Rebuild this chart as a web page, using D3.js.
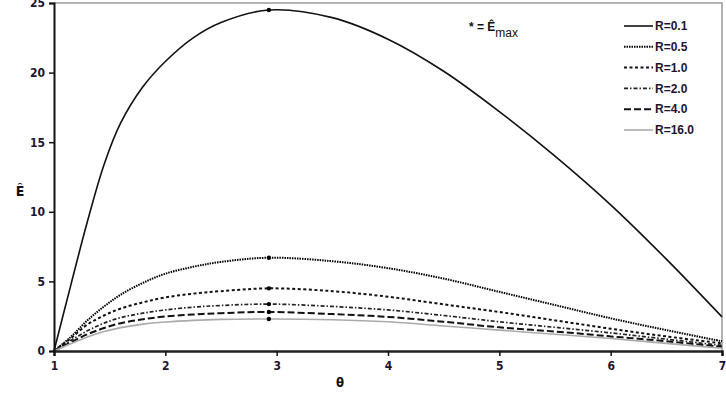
<!DOCTYPE html>
<html>
<head>
<meta charset="utf-8">
<script src="https://cdn.jsdelivr.net/npm/d3@7"></script>
<style>
  body { margin: 0; background: #fff; }
  svg text { font-family: "Liberation Sans Narrow", "Arial Narrow", "DejaVu Sans Condensed", "Liberation Sans", Arial, sans-serif; }
  svg text.legend, svg text.note { font-family: "Liberation Sans", Arial, sans-serif; }
</style>
</head>
<body>
<div id="graphicContainer"></div>
<script>

const theta = [1, 1.15, 1.3, 1.45, 1.6, 1.8, 2, 2.25, 2.5, 2.93, 3.5, 4, 4.5, 5, 5.5, 6, 6.5, 7]

const r01 = [0, 4.7, 9.3, 13.4, 16.4, 19.0, 20.8, 22.5, 23.6, 24.5, 23.95, 22.4, 20.1, 17.2, 14.0, 10.5, 6.6, 2.45]
const r05 = [0, 1.0, 2.2, 3.2, 4.05, 4.9, 5.55, 6.05, 6.4, 6.7, 6.45, 5.95, 5.2, 4.25, 3.3, 2.35, 1.5, 0.7]
const r10 = [0, 0.9, 1.9, 2.55, 3.05, 3.5, 3.85, 4.12, 4.3, 4.5, 4.3, 3.9, 3.35, 2.8, 2.2, 1.6, 1.05, 0.55]
const r20 = [0, 0.75, 1.45, 2.0, 2.4, 2.72, 2.95, 3.15, 3.27, 3.37, 3.2, 2.95, 2.55, 2.1, 1.7, 1.3, 0.85, 0.4]
const r40 = [0, 0.62, 1.2, 1.65, 2.0, 2.28, 2.48, 2.62, 2.72, 2.8, 2.65, 2.45, 2.1, 1.7, 1.4, 1.05, 0.7, 0.3]
const r160 = [0, 0.52, 1.0, 1.4, 1.68, 1.93, 2.08, 2.2, 2.27, 2.3, 2.25, 2.1, 1.8, 1.5, 1.2, 0.9, 0.55, 0.2]

const seriesNames = ["R=0.1", "R=0.5", "R=1.0", "R=2.0", "R=4.0", "R=16.0"]
const seriesValues = [r01, r05, r10, r20, r40, r160]
const peakTheta = 2.93

const xTicks = [1, 2, 3, 4, 5, 6, 7]
const yTicks = [0, 5, 10, 15, 20, 25]

// line styles per series
const styles = [
  { stroke: "#111", width: 1.6, dash: null },
  { stroke: "#000", width: 2, dash: "1.5,1" },
  { stroke: "#111", width: 2, dash: "3,2.5" },
  { stroke: "#222", width: 1.7, dash: "4,2,1.5,2" },
  { stroke: "#111", width: 2, dash: "7,3" },
  { stroke: "#aaa", width: 1.6, dash: null }
]

const W = 726, H = 394
const margin = { left: 54, right: 4, top: 3, bottom: 43 }
const width = W - margin.left - margin.right
const height = H - margin.top - margin.bottom

const svg = d3.select("#graphicContainer").append("svg")
  .attr("width", W)
  .attr("height", H)

const g = svg.append("g")
  .attr("transform", `translate(${margin.left}, ${margin.top})`)

const x = d3.scaleLinear().domain([1, 7]).range([0, width])
const y = d3.scaleLinear().domain([0, 25]).range([height, 0])

// frame (top + right, grey)
g.append("path")
  .attr("d", `M0,${y(25)}H${width}V${height}`)
  .attr("fill", "none")
  .attr("stroke", "#999")
  .attr("stroke-width", 1.5)

const line = d3.line()
  .x((d) => x(d[0]))
  .y((d) => y(d[1]))
  .curve(d3.curveCatmullRom.alpha(0.5))

seriesValues.forEach((vals, i) => {
  const st = styles[i]
  g.append("path")
    .datum(theta.map((t, j) => [t, vals[j]]))
    .attr("d", line)
    .attr("fill", "none")
    .attr("stroke", st.stroke)
    .attr("stroke-width", st.width)
    .attr("stroke-dasharray", st.dash)
})

// E max markers
g.selectAll(".peak")
  .data(seriesValues)
  .enter()
  .append("circle")
  .attr("class", "peak")
  .attr("cx", x(peakTheta))
  .attr("cy", (d) => y(d[theta.indexOf(peakTheta)]))
  .attr("r", 2.2)
  .attr("fill", "#000")

// axes
const xAxis = g.append("g")
  .attr("transform", `translate(0,${height})`)
  .call(d3.axisBottom(x).tickValues(xTicks).tickSize(5).tickFormat(d3.format("d")))

const yAxis = g.append("g")
  .call(d3.axisLeft(y).tickValues(yTicks).tickSize(5).tickFormat(d3.format("d")))

xAxis.select(".domain").attr("stroke", "#222").attr("stroke-width", 2.5)
yAxis.select(".domain").attr("stroke", "#111").attr("stroke-width", 2)

svg.selectAll(".tick line").attr("stroke", "#111").attr("stroke-width", 1.5)
svg.selectAll(".tick text")
  .attr("font-size", 12)
  .attr("font-weight", "bold")
  .attr("fill", "#1e1430")

xAxis.selectAll(".tick text").attr("dy", "0.95em")
yAxis.selectAll(".tick text").attr("x", -9)

// axis titles
svg.append("text")
  .attr("x", margin.left + x(3.57))
  .attr("y", 387)
  .attr("text-anchor", "middle")
  .attr("font-size", 13)
  .attr("font-weight", "bold")
  .attr("fill", "#111")
  .text("θ")

svg.append("text")
  .attr("x", 20)
  .attr("y", 196)
  .attr("text-anchor", "middle")
  .attr("font-size", 14)
  .attr("font-weight", "bold")
  .attr("fill", "#111")
  .text("Ê")

// E max note
const note = svg.append("text")
  .attr("class", "note")
  .attr("x", 469)
  .attr("y", 31)
  .attr("font-size", 12)
  .attr("font-weight", "bold")
  .attr("fill", "#111")
note.append("tspan").text("* = Ê")
note.append("tspan").attr("dy", 6).attr("font-weight", "normal").text("max")

// legend
const legend = svg.append("g")
  .attr("transform", "translate(624, 26)")

seriesNames.forEach((name, i) => {
  const st = styles[i]
  const row = legend.append("g").attr("transform", `translate(0, ${i * 20.8})`)
  row.append("line")
    .attr("x1", 0)
    .attr("x2", 29)
    .attr("stroke", st.stroke)
    .attr("stroke-width", st.width)
    .attr("stroke-dasharray", st.dash)
  row.append("text")
    .attr("class", "legend")
    .attr("x", 31)
    .attr("dy", "0.35em")
    .attr("font-size", 12)
    .attr("font-weight", "bold")
    .attr("fill", "#1e1430")
    .text(name)
})

</script>
</body>
</html>
